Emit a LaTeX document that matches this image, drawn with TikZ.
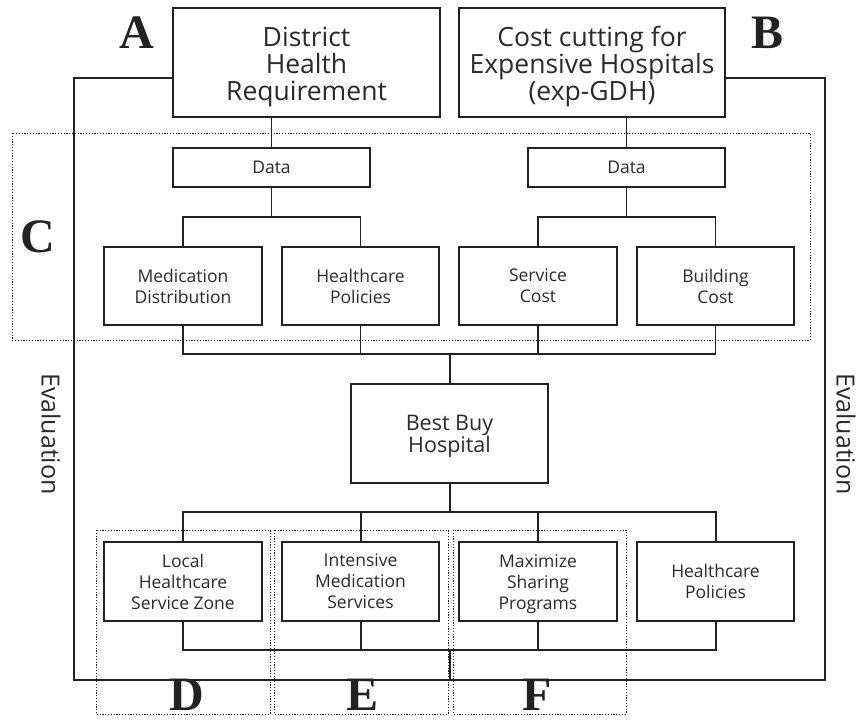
\documentclass[tikz,border=0pt]{standalone}
\usepackage{fontspec}
\setmainfont{Open Sans}
\newfontfamily\letterfont{Liberation Serif}
\usetikzlibrary{calc}
\definecolor{ink}{HTML}{222222}
\definecolor{txt}{HTML}{2A2A2A}
% strut that lowers the first line of a centred multi-line label
\newcommand\toppad[1]{\rule{0pt}{#1}}
\begin{document}
\begin{tikzpicture}[x=1pt,y=-1pt,
  box/.style={draw=ink,line width=1.3pt,fill=white,text=txt,align=center,inner sep=0pt},
  bigbox/.style={box,font=\fontsize{26.5}{27}\selectfont},
  midbox/.style={box,font=\fontsize{21.5}{21}\selectfont},
  smallbox/.style={box,font=\fontsize{17.5}{21}\selectfont},
  thin/.style={draw=ink,line width=1.3pt},
  thick/.style={draw=ink,line width=2pt},
  frame/.style={draw=ink,line width=2.2pt},
  zone/.style={draw=ink,line width=0.9pt,dash pattern=on 1.2pt off 1.6pt},
  tag/.style={font=\letterfont\bfseries\fontsize{48}{48}\selectfont,text=ink,anchor=base,inner sep=0pt,text depth=0pt},
  evalt/.style={font=\fontsize{25}{25}\selectfont,text=txt,rotate=-90,inner sep=0pt}
]
\useasboundingbox (0,0) rectangle (863,720);

% dotted grouping zones
\draw[zone] (12,133) rectangle (810,340);
\draw[zone] (96,530) rectangle (270,714);
\draw[zone] (274,530) rectangle (448,714);
\draw[zone] (453,530) rectangle (626,714);

% top goals
\node[bigbox,minimum width=267pt,minimum height=109pt] (A) at (306.5,62.5) {\toppad{28.5pt}District\\Health\\Requirement};
\node[bigbox,minimum width=266pt,minimum height=109pt] (B) at (592,62.5) {\toppad{28.5pt}Cost cutting for\\Expensive Hospitals\\(exp-GDH)};

% data level
\node[smallbox,minimum width=197pt,minimum height=39pt] (dL) at (271.5,167.5) {Data};
\node[smallbox,minimum width=197pt,minimum height=39pt] (dR) at (626.5,167.5) {Data};

% criteria
\node[smallbox,minimum width=158pt,minimum height=78pt] (med) at (183,286) {Medication\\Distribution};
\node[smallbox,minimum width=157pt,minimum height=78pt] (hp) at (360.5,286) {Healthcare\\Policies};
\node[smallbox,minimum width=158pt,minimum height=78pt] (sc) at (538,286) {Service\\Cost};
\node[smallbox,minimum width=157pt,minimum height=78pt] (bc) at (715.5,286) {Building\\Cost};

% decision
\node[midbox,minimum width=197pt,minimum height=99pt] (best) at (449.5,433.5) {\toppad{21.5pt}Best Buy\\Hospital};

% alternatives
\node[smallbox,minimum width=158pt,minimum height=79pt] (loc) at (183,581.5) {Local\\Healthcare\\Service Zone};
\node[smallbox,minimum width=157pt,minimum height=79pt] (ims) at (360.5,581.5) {Intensive\\Medication\\Services};
\node[smallbox,minimum width=158pt,minimum height=79pt] (msp) at (538,581.5) {\toppad{17.5pt}Maximize\\Sharing\\Programs};
\node[smallbox,minimum width=157pt,minimum height=79pt] (hp2) at (715.5,581.5) {Healthcare\\Policies};

% bus points
\coordinate (busL) at (271.5,217);
\coordinate (busR) at (626.5,217);
\coordinate (hub) at (449.5,354);
\coordinate (top2) at (449.5,512);
\coordinate (bot2) at (449.5,650);
\coordinate (fl) at (74,680);
\coordinate (fr) at (825,680);
\coordinate (fm) at (449.5,680);

% upper tree
\draw[thin] (dL.north) -- (dL.north |- A.south);
\draw[thin] (dR.north) -- (dR.north |- B.south);
\draw[thin] (dL.south) -- (busL);
\draw[thin] (dR.south) -- (busR);
\draw[thin] (med.north) |- (busL) -| (hp.north);
\draw[thin] (sc.north) |- (busR) -| (bc.north);
\draw[thin] (med.south) |- (hub) -| (bc.south);
\draw[thin] (hp.south) -- (hp.south |- hub);
\draw[thin] (sc.south) -- (sc.south |- hub);
\draw[thick] (hub) -- (best.north);

% lower tree
\draw[thick] (best.south) -- (top2);
\draw[thick] (loc.north) |- (top2) -| (hp2.north);
\draw[thick] (ims.north) -- (ims.north |- top2);
\draw[thick] (msp.north) -- (msp.north |- top2);
\draw[thick] (loc.south) |- (bot2) -| (hp2.south);
\draw[thick] (ims.south) -- (ims.south |- bot2);
\draw[thick] (msp.south) -- (msp.south |- bot2);
\draw[thick] (bot2) -- (fm);

% evaluation loop
\draw[frame] ([yshift=-15.5pt]A.west) -| (fl) -- (fr) |- ([yshift=-15.5pt]B.east);
\node[evalt] (evL) at (51,434) {Evaluation};
\node[evalt] (evR) at (846,434) {Evaluation};

% section letters
\node[tag] (tA) at (137,48) {A};
\node[tag] (tB) at (768,48) {B};
\node[tag] (tC) at (38,252) {C};
\node[tag] (tD) at (187,710) {D};
\node[tag] (tE) at (363,710) {E};
\node[tag] (tF) at (537,710) {F};
\end{tikzpicture}
\end{document}
